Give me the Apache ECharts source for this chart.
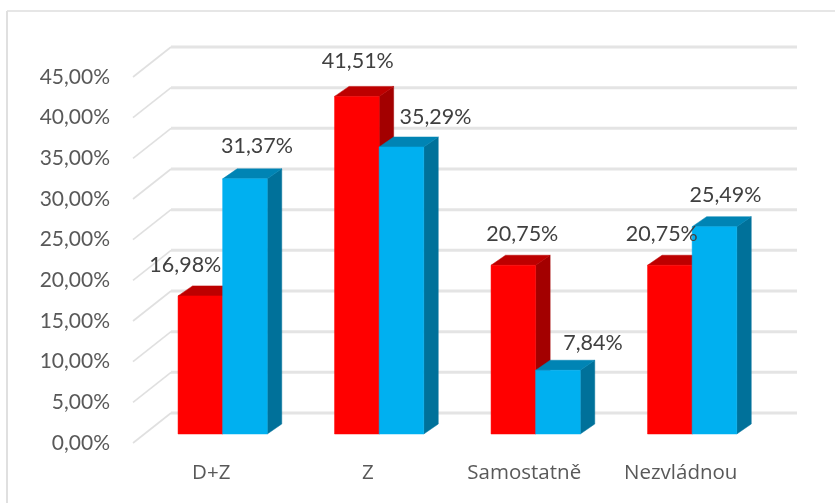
<!DOCTYPE html>
<html>
<head>
<meta charset="utf-8">
<style>
  html, body { margin: 0; padding: 0; background: #fff; }
  #main { width: 835px; height: 503px; }
</style>
<script src="https://cdn.jsdelivr.net/npm/echarts@6/dist/echarts.min.js"></script>
</head>
<body>
<div id="main"></div>
<script>
var categories = ["D+Z", "Z", "Samostatně", "Nezvládnou"];
var redValues = [16.98, 41.51, 20.75, 20.75];
var blueValues = [31.37, 35.29, 7.84, 25.49];
var yTicks = [0, 5, 10, 15, 20, 25, 30, 35, 40, 45];

// hand placed labels, same as in the original: [dx, dy] from the top middle of the bar
var redLabelShift = [[-15, -31], [1, -35], [9, -31], [-8, -31]];
var blueLabelShift = [[12, -33], [34, -30], [35, -27], [11, -32]];

// fake 3d
var wallDx = 38, wallDy = -30; // front of the floor to the back wall
var barDx = 11.4, barDy = -9;  // where bars stand on the floor
var depthX = 14.5, depthY = -10; // bar depth
var barW = 44.6;

function pct(v) {
  return v.toFixed(2).replace(".", ",") + "%";
}

function poly(points, fill) {
  return { type: "polygon", shape: { points: points }, style: { fill: fill, stroke: fill, lineWidth: 0.5 } };
}

function renderWall(params, api) {
  var left = api.coord([0, api.value(0)]);
  var size = api.size([1, 0]);
  var x0 = left[0] - size[0] / 2;
  var y0 = left[1];
  var x1 = x0 + wallDx, y1 = y0 + wallDy;
  var x2 = x1 + size[0] * 4;
  return {
    type: "group",
    children: [
      { type: "line", shape: { x1: x0, y1: y0, x2: x1, y2: y1 }, style: { stroke: "#e0e0e0", lineWidth: 1.6 } },
      { type: "line", shape: { x1: x1, y1: y1, x2: x2, y2: y1 }, style: { stroke: "#e4e4e4", lineWidth: 3 } }
    ]
  };
}

function renderBar(side, front, top, dark) {
  return function (params, api) {
    var p = api.coord([api.value(0), api.value(1)]);
    var b = api.coord([api.value(0), 0]);
    var x = p[0] + barDx + (side === 0 ? -barW : 0);
    var yt = p[1] + barDy;
    var yb = b[1] + barDy;
    var w = barW;
    return {
      type: "group",
      children: [
        poly([[x + w, yb], [x + w + depthX, yb + depthY], [x + w + depthX, yt + depthY], [x + w, yt]], dark),
        poly([[x, yt], [x + depthX, yt + depthY], [x + w + depthX, yt + depthY], [x + w, yt]], top),
        poly([[x, yb], [x + w, yb], [x + w, yt], [x, yt]], front)
      ]
    };
  };
}

function renderLabel(params, api) {
  var p = api.coord([api.value(0), api.value(1)]);
  var side = api.value(2);
  var x = p[0] + barDx + (side === 0 ? -barW / 2 : barW / 2) + api.value(3);
  var y = p[1] + barDy + api.value(4);
  return {
    type: "text",
    style: {
      x: x, y: y,
      text: pct(api.value(1)),
      fill: "#404040",
      font: "21.5px Lato",
      align: "center",
      verticalAlign: "middle"
    }
  };
}

var labelData = [];
categories.forEach(function (c, i) {
  labelData.push([i, redValues[i], 0, redLabelShift[i][0], redLabelShift[i][1]]);
  labelData.push([i, blueValues[i], 1, blueLabelShift[i][0], blueLabelShift[i][1]]);
});

var chart = echarts.init(document.getElementById("main"));
chart.setOption({
  animation: false,
  backgroundColor: "#fff",
  textStyle: { fontFamily: "Lato" },
  grid: { left: 133, top: 77, width: 626, height: 366 },
  graphic: [
    { type: "line", silent: true, shape: { x1: 7, y1: 11, x2: 835, y2: 11 }, style: { stroke: "#e6e6e6", lineWidth: 2 } },
    { type: "line", silent: true, shape: { x1: 7, y1: 11, x2: 7, y2: 503 }, style: { stroke: "#e0e0e0", lineWidth: 2 } }
  ],
  xAxis: {
    type: "category",
    data: categories,
    axisLine: { show: false },
    axisTick: { show: false },
    axisLabel: { color: "#595959", fontSize: 20.5, margin: 20, fontFamily: "Open Sans" }
  },
  yAxis: {
    type: "value",
    min: 0,
    max: 45,
    interval: 5,
    axisLine: { show: false },
    axisTick: { show: false },
    splitLine: { show: false },
    axisLabel: { color: "#595959", fontSize: 21, margin: 23, fontFamily: "Lato", padding: [2, 0, 0, 0], formatter: pct }
  },
  series: [
    {
      type: "custom",
      silent: true,
      z: 1,
      renderItem: renderWall,
      encode: { y: 0 },
      data: yTicks.map(function (t) { return [t]; })
    },
    {
      name: "red",
      type: "custom",
      z: 2,
      renderItem: renderBar(0, "#ff0000", "#bd0000", "#a30000"),
      encode: { x: 0, y: 1 },
      data: redValues.map(function (v, i) { return [i, v]; })
    },
    {
      name: "blue",
      type: "custom",
      z: 3,
      renderItem: renderBar(1, "#00b0f0", "#0084b4", "#00719a"),
      encode: { x: 0, y: 1 },
      data: blueValues.map(function (v, i) { return [i, v]; })
    },
    {
      type: "custom",
      z: 4,
      renderItem: renderLabel,
      encode: { x: 0, y: 1 },
      data: labelData
    }
  ]
});
</script>
</body>
</html>
